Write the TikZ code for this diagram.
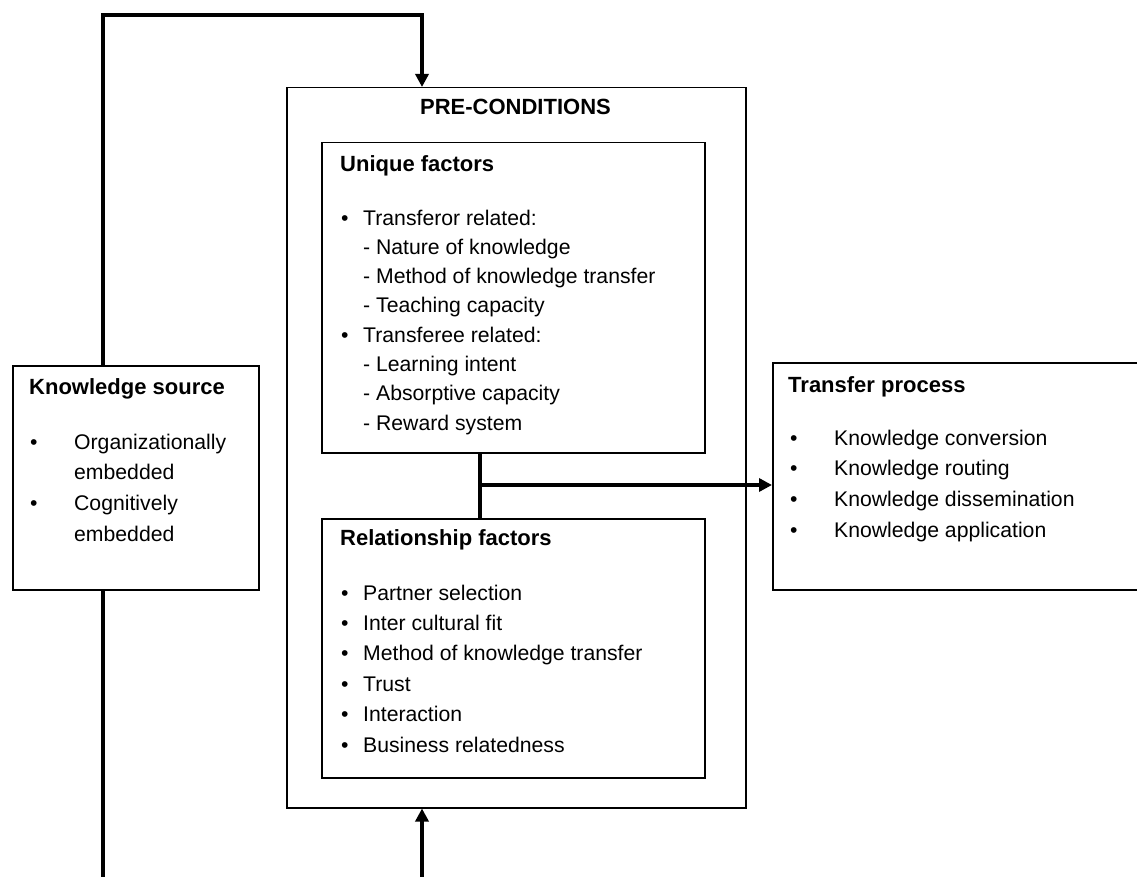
\documentclass[tikz,border=0pt]{standalone}
\usepackage{fontspec}
\setmainfont{Liberation Sans}
\usetikzlibrary{arrows.meta}

\begin{document}
\begin{tikzpicture}[x=1pt,y=-1pt]
    \tikzstyle{box} = [draw, shape=rectangle, anchor=north west, line width=1.5pt, inner sep=0pt]
    \tikzstyle{title} = [anchor=base west, inner sep=0pt, font=\fontsize{22}{30}\selectfont\bfseries]
    \tikzstyle{items} = [anchor=north west, inner sep=0pt, align=left, font=\fontsize{21.2}{30.5}\selectfont]
    \tikzstyle{link} = [line width=4pt, -{Triangle[length=13pt,width=13pt]}]
    \useasboundingbox (0,0) rectangle (1137,877);

    \node [box, minimum width=459pt, minimum height=720pt] at (286,87) (pre) {};
    \node [title, anchor=base] at (515.5,115) (pretitle) {PRE-CONDITIONS};

    \node [box, minimum width=383pt, minimum height=310pt] at (321,142) (uf) {};
    \node [title] at (340,172) (uftitle) {Unique factors};
    \node [items, font=\fontsize{21.2}{29.3}\selectfont] at (341,209.5) (uflist)
        {\makebox[22pt][l]{•}Transferor related:\\
         \hspace*{22pt}- Nature of knowledge\\
         \hspace*{22pt}- Method of knowledge transfer\\
         \hspace*{22pt}- Teaching capacity\\
         \makebox[22pt][l]{•}Transferee related:\\
         \hspace*{22pt}- Learning intent\\
         \hspace*{22pt}- Absorptive capacity\\
         \hspace*{22pt}- Reward system};

    \node [box, minimum width=383pt, minimum height=259pt] at (321,518) (rf) {};
    \node [title] at (340,545) (rftitle) {Relationship factors};
    \node [items, font=\fontsize{21.2}{30.4}\selectfont] at (341,584.5) (rflist)
        {\makebox[22pt][l]{•}Partner selection\\
         \makebox[22pt][l]{•}Inter cultural fit\\
         \makebox[22pt][l]{•}Method of knowledge transfer\\
         \makebox[22pt][l]{•}Trust\\
         \makebox[22pt][l]{•}Interaction\\
         \makebox[22pt][l]{•}Business relatedness};

    \node [box, minimum width=246pt, minimum height=224pt] at (12,365) (ks) {};
    \node [title] at (29,394) (kstitle) {Knowledge source};
    \node [items, font=\fontsize{21.2}{30.7}\selectfont] at (30,433.5) (kslist)
        {\makebox[44pt][l]{•}Organizationally\\
         \hspace*{44pt}embedded\\
         \makebox[44pt][l]{•}Cognitively\\
         \hspace*{44pt}embedded};

    \node [box, minimum width=368pt, minimum height=227pt] at (772,362) (tp) {};
    \node [title] at (788,392) (tptitle) {Transfer process};
    \node [items, font=\fontsize{21.2}{30.7}\selectfont] at (790,429.5) (tplist)
        {\makebox[44pt][l]{•}Knowledge conversion\\
         \makebox[44pt][l]{•}Knowledge routing\\
         \makebox[44pt][l]{•}Knowledge dissemination\\
         \makebox[44pt][l]{•}Knowledge application};

    % feedback loop and junction points
    \coordinate (top) at (103,15);
    \coordinate (bot) at (103,878.5);
    \coordinate (fb) at (422,0);
    \coordinate (jn) at (480,485);

    \begin{scope}[line width=4pt]
    \draw [link] (ks.north -| top) -- (top) -| (pre.north -| fb);
    \draw [link] (ks.south -| bot) -- (bot) -| (pre.south -| fb);
    \draw (uf.south -| jn) -- (rf.north -| jn);
    \draw [link] (jn) -- (jn -| tp.west);
    \end{scope}
\end{tikzpicture}
\end{document}
